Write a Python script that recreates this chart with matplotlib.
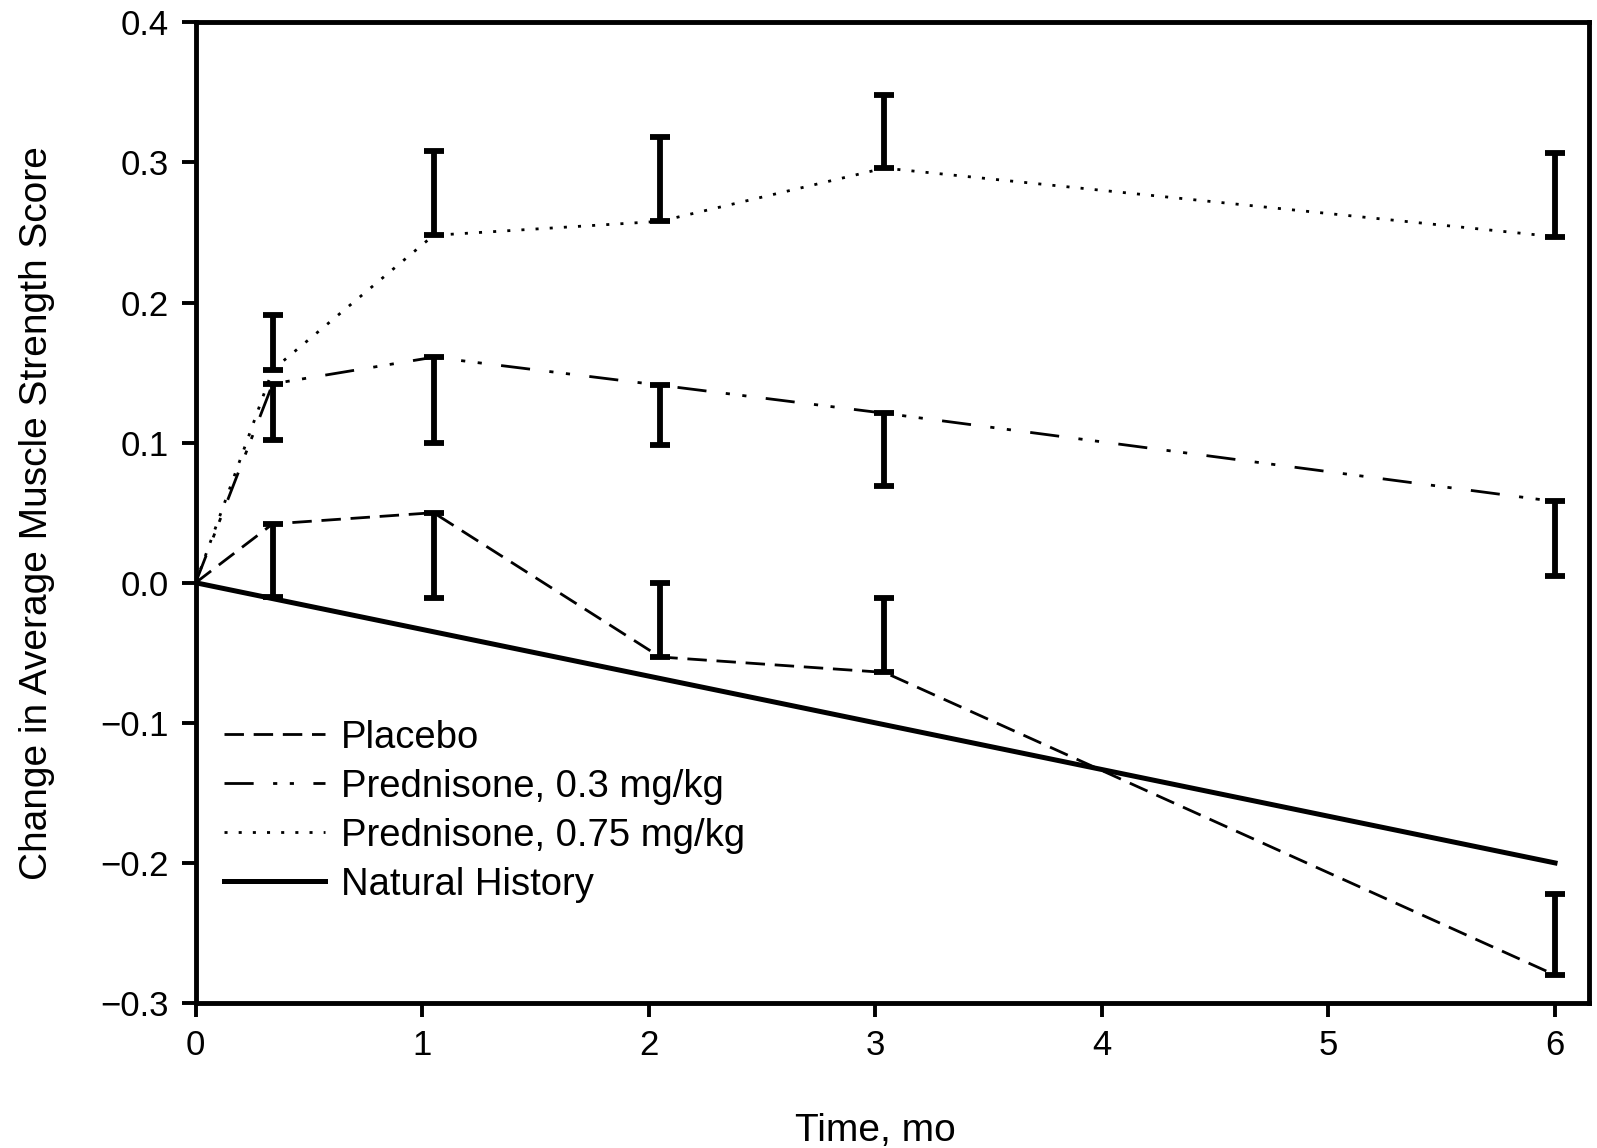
import numpy as np
import matplotlib
matplotlib.use('Agg')
import matplotlib.pyplot as plt

plt.rcParams['font.family'] = ['Liberation Sans', 'DejaVu Sans']
plt.rcParams['lines.scale_dashes'] = False

# time points (months)
months = [0, 0.34, 1.05, 2.05, 3.04, 6.0]
bar_months = months[1:]

# mean change in muscle strength score
placebo = [0, 0.042, 0.050, -0.053, -0.064, -0.280]
pred_03 = [0, 0.142, 0.161, 0.141, 0.121, 0.058]
pred_075 = [0, 0.152, 0.248, 0.258, 0.296, 0.247]

# far end of the one-sided error bars
placebo_bar = [-0.010, -0.011, 0.000, -0.011, -0.222]
pred_03_bar = [0.102, 0.100, 0.098, 0.069, 0.005]
pred_075_bar = [0.191, 0.308, 0.318, 0.348, 0.307]

natural_months = [0, 6]
natural_history = [0, -0.200]

labels = ['Placebo', 'Prednisone, 0.3 mg/kg', 'Prednisone, 0.75 mg/kg', 'Natural History']

fig = plt.figure(figsize=(15.97, 11.48), dpi=100)
ax = fig.add_axes([0.1225, 0.1263, 0.8725, 0.8542])

l1, = ax.plot(months, placebo, color='black', lw=2, dashes=(14, 7))
l2, = ax.plot(months, pred_03, color='black', lw=2, dashes=(21, 14, 3, 9, 3, 14))
l3, = ax.plot(months, pred_075, color='black', lw=2, dashes=(2.2, 8))
l4, = ax.plot(natural_months, natural_history, color='black', lw=3.6)

# one-sided error bars
for means, ends in [(placebo, placebo_bar), (pred_03, pred_03_bar), (pred_075, pred_075_bar)]:
    m = np.array(means[1:])
    e = np.array(ends)
    lower = np.clip(m - e, 0, None)
    upper = np.clip(e - m, 0, None)
    ax.errorbar(bar_months, m, yerr=[lower, upper], fmt='none', ecolor='black',
                elinewidth=4.2, capsize=7.5, capthick=4.2)

ax.set_xlim(0, 6.15)
ax.set_ylim(-0.3, 0.4)
ax.set_xticks(range(0, 7))
ax.set_yticks(np.arange(-0.3, 0.41, 0.1))
ax.set_yticklabels(['\u22120.3', '\u22120.2', '\u22120.1', '0.0', '0.1', '0.2', '0.3', '0.4'])

for sp in ax.spines.values():
    sp.set_linewidth(3.5)
ax.tick_params(direction='out', length=10, width=2.8, pad=9, labelsize=25)

ax.set_xlabel('Time, mo', fontsize=28)
ax.set_ylabel('Change in Average Muscle Strength Score', fontsize=28)
ax.xaxis.set_label_coords(3 / 6.15, -0.112)
ax.yaxis.set_label_coords(-0.101, 0.5)

ax.legend([l1, l2, l3, l4], labels, loc='upper left', bbox_to_anchor=(0.0204, 0.289),
          frameon=False, fontsize=27.5, handlelength=2.65, handletextpad=0.42,
          labelspacing=0.34, borderpad=0, borderaxespad=0)

fig.savefig('out.png', dpi=100)
